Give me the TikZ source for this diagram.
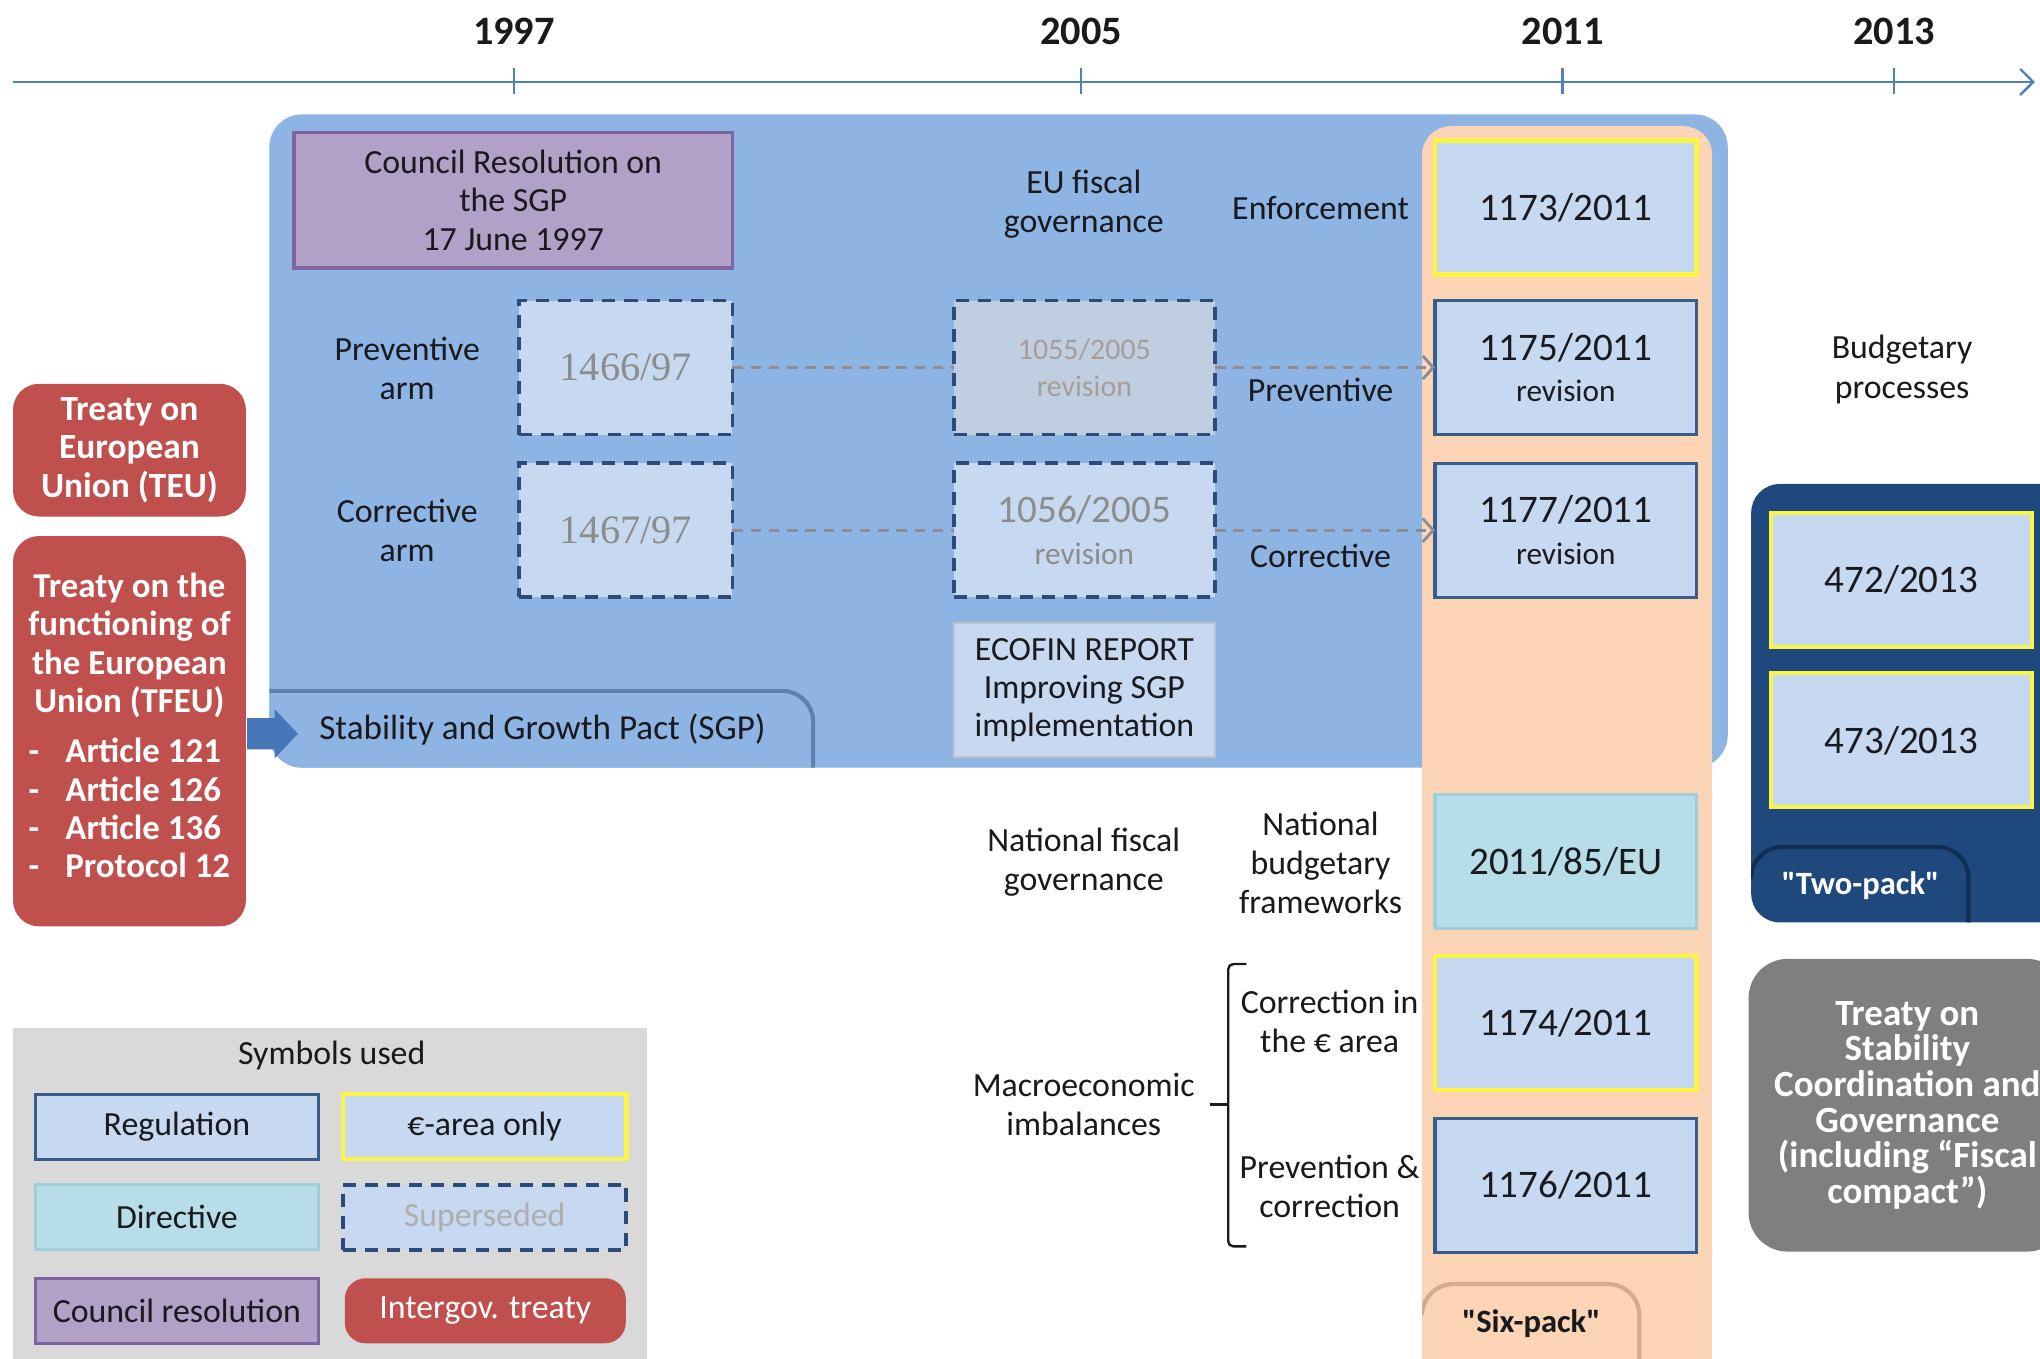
\documentclass[tikz,border=0pt]{standalone}
\usepackage{fontspec}
\setmainfont{Carlito}
\newfontfamily\serifnum{Liberation Serif}
\usetikzlibrary{arrows.meta}
\definecolor{sgpblue}{RGB}{141,180,226}
\definecolor{tabedge}{RGB}{92,128,176}
\definecolor{regfill}{RGB}{198,217,241}
\definecolor{regborder}{RGB}{56,93,138}
\definecolor{euroyellow}{RGB}{250,245,70}
\definecolor{peach}{RGB}{251,213,181}
\definecolor{peachedge}{RGB}{214,170,140}
\definecolor{dirfill}{RGB}{183,222,232}
\definecolor{dirborder}{RGB}{160,205,218}
\definecolor{purplefill}{RGB}{178,161,199}
\definecolor{purpleborder}{RGB}{128,100,162}
\definecolor{treatyred}{RGB}{192,80,77}
\definecolor{navy}{RGB}{31,73,125}
\definecolor{navyedge}{RGB}{18,45,82}
\definecolor{treatygray}{RGB}{127,127,127}
\definecolor{legbg}{RGB}{217,217,217}
\definecolor{timeline}{RGB}{79,129,189}
\definecolor{arrowblue}{RGB}{70,120,185}
\definecolor{supborder}{RGB}{45,75,120}
\definecolor{supgray}{RGB}{140,140,140}
\definecolor{supfilltwo}{RGB}{192,206,226}
\definecolor{suptexttwo}{RGB}{166,158,150}
\definecolor{linkgray}{RGB}{140,140,150}
\definecolor{ecoborder}{RGB}{190,195,205}
\definecolor{darktext}{RGB}{25,25,30}
\newcommand{\fsz}[2]{\fontsize{#1}{#2}\selectfont}
\begin{document}
\begin{tikzpicture}[x=0.5pt,y=-0.5pt,
  every node/.style={inner sep=0pt, outer sep=0pt, text=darktext},
  lbl/.style={align=center, font=\fsz{13}{15}},
  boxbase/.style={minimum width=100.5pt, minimum height=51.5pt, align=center, line width=1.2pt},
  regbox/.style={boxbase, draw=regborder, fill=regfill, font=\fsz{15}{16}},
  eurobox/.style={boxbase, draw=euroyellow, line width=1.6pt, fill=regfill, font=\fsz{15}{16}},
  supbox/.style={boxbase, draw=supborder, fill=regfill, line width=1.5pt, dash pattern=on 5pt off 3.5pt},
  dirbox/.style={boxbase, draw=dirborder, fill=dirfill, font=\fsz{15}{16}},
  redbox/.style={fill=treatyred, rounded corners=10pt, text=white, align=center, font=\bfseries\fsz{13.6}{14.75}},
  legbox/.style={minimum width=109pt, minimum height=25pt, font=\fsz{13}{15}, align=center, line width=1.2pt},
  link/.style={draw=linkgray, line width=1.1pt, dash pattern=on 4pt off 3pt},
]
\useasboundingbox (0,0) rectangle (1568,1044);
\fill[white] (0,0) rectangle (1568,1044);

% timeline
\coordinate (tl0) at (10,63);
\coordinate (tl1) at (1564,63);
\draw[timeline, line width=0.9pt, -{Straight Barb[length=5pt,width=10pt]}] (tl0) -- (tl1);
\foreach \yr/\xx in {1997/395,2005/831,2011/1201,2013/1456}{
  \draw[timeline, line width=0.9pt] (\xx,52) -- (\xx,72);
  \node[font=\bfseries\fsz{15.5}{17}] (y\yr) at (\xx,24) {\yr};
}

% EU fiscal governance container
\node[fill=sgpblue, rounded corners=12.5pt, minimum width=560.5pt, minimum height=251pt] (eu) at (767.5,339) {};
% SGP tab
\begin{scope}
  \clip[rounded corners=12.5pt] (207,88) rectangle (1328,590);
  \fill[sgpblue, rounded corners=12pt] (190,531) -- (625,531) -- (625,620) -- (190,620) -- cycle;
  \draw[tabedge, line width=1.6pt, rounded corners=12pt] (207,531) -- (625,531) -- (625,600);
\end{scope}
\node[font=\fsz{13.5}{15}] (sgp) at (417,561) {Stability and Growth Pact (SGP)};

% six-pack column
\begin{scope}
  \clip (1093,90) rectangle (1320,1044);
  \fill[peach, rounded corners=11pt] (1093,97) rectangle (1316,1120);
  \draw[peachedge, line width=1.6pt, rounded corners=12pt] (1093,1010) -- (1093,987) -- (1260,987) -- (1260,1060);
\end{scope}
\node[font=\bfseries\fsz{12.5}{15}] (sixpack) at (1177,1017) {\textquotedbl Six-pack\textquotedbl};

% council resolution
\node[draw=purpleborder, fill=purplefill, line width=1.2pt, minimum width=168.5pt, minimum height=52pt, align=center, font=\fsz{13}{14.75}] (council) at (394.5,154) {Council Resolution on\\the SGP\\17 June 1997};

% labels
\node[lbl] (eufisc) at (833,157) {EU fiscal\\governance};
\node[lbl] (enf) at (1015,160) {Enforcement};
\node[lbl] (prevarm) at (313,283) {Preventive\\arm};
\node[lbl] (corrarm) at (313,408) {Corrective\\arm};
\node[lbl] (prev) at (1015,300) {Preventive};
\node[lbl] (corr) at (1015,427) {Corrective};
\node[lbl] (natfisc) at (833,663) {National fiscal\\governance};
\node[lbl] (natbud) at (1015,663) {National\\budgetary\\frameworks};
\node[lbl] (macro) at (833,849) {Macroeconomic\\imbalances};
\node[lbl] (corrdraw) at (1022,785) {Correction in\\the € area};
\node[lbl] (prevcorr) at (1022,912) {Prevention \&\\correction};
\node[lbl] (budproc) at (1462,284) {Budgetary\\processes};

% superseded
\node[supbox, minimum width=82pt, font=\serifnum\fsz{15.5}{17}, text=supgray] (r1466) at (481,282.5) {1466/97};
\node[supbox, minimum width=82pt, font=\serifnum\fsz{15.5}{17}, text=supgray] (r1467) at (481,407.5) {1467/97};
\node[supbox, fill=supfilltwo, text=suptexttwo, font=\fsz{11.5}{14}] (r1055) at (833.5,282.5) {1055/2005\\revision};
\node[supbox, text=supgray, font=\fsz{15}{16}] (r1056) at (833.5,407.5) {1056/2005\\{\fsz{12}{16}revision}};
\node[boxbase, draw=ecoborder, fill=regfill, line width=0.8pt, font=\fsz{13}{14.75}] (ecofin) at (833.5,530.5) {ECOFIN REPORT\\Improving SGP\\implementation};

% six-pack regulations
\node[eurobox] (r1173) at (1203.5,159.5) {1173/2011};
\node[regbox] (r1175) at (1203.5,282.5) {1175/2011\\{\fsz{12}{16}revision}};
\node[regbox] (r1177) at (1203.5,407.5) {1177/2011\\{\fsz{12}{16}revision}};
\node[dirbox] (d2011) at (1203.5,662) {2011/85/EU};
\node[eurobox] (r1174) at (1203.5,786.5) {1174/2011};
\node[regbox] (r1176) at (1203.5,911) {1176/2011};

% links
\draw[link] (r1466.east) -- (r1055.west);
\draw[link] (r1467.east) -- (r1056.west);
\draw[link, -{Straight Barb[length=4pt,width=9pt]}] (r1055.east) -- (r1175.west);
\draw[link, -{Straight Barb[length=4pt,width=9pt]}] (r1056.east) -- (r1177.west);

% brace
\draw[darktext, line width=0.9pt, rounded corners=2pt] (958,741) -- (944,741) -- (944,958) -- (958,958);
\draw[darktext, line width=0.9pt] (944,849) -- (930,849);

% treaties left
\node[redbox, minimum width=89.5pt, minimum height=51pt] (teu) at (99.5,346) {Treaty on\\European\\Union (TEU)};
\node[redbox, minimum width=89.5pt, minimum height=150pt, font=\bfseries\fsz{13.4}{14.75}] (tfeu) at (99.5,562) {Treaty on the\\functioning of\\the European\\Union (TFEU)\\[6pt]
\begin{tabular}{@{}l@{\hspace{10pt}}l@{}}-&Article 121\\-&Article 126\\-&Article 136\\-&Protocol 12\end{tabular}};
\fill[arrowblue] (190,552) -- (211,552) -- (211,545) -- (229,564) -- (211,583) -- (211,576) -- (190,576) -- cycle;

% two-pack
\node[fill=navy, rounded corners=11pt, minimum width=122pt, minimum height=168.5pt] (twopack) at (1468,540.5) {};
\node[eurobox] (r472) at (1461.5,445.5) {472/2013};
\node[eurobox] (r473) at (1461.5,569) {473/2013};
\begin{scope}
  \clip[rounded corners=11pt] (1346,372) rectangle (1590,709);
  \draw[navyedge, line width=1.6pt, rounded corners=12pt] (1346,672) -- (1346,651) -- (1513,651) -- (1513,715);
\end{scope}
\node[font=\bfseries\fsz{12.5}{15}, text=white] (twolbl) at (1430,681) {\textquotedbl Two-pack\textquotedbl};

% TSCG
\node[fill=treatygray, rounded corners=15pt, minimum width=122pt, minimum height=112.5pt, text=white, align=center, font=\bfseries\fsz{14.2}{13.7}] (tscg) at (1466,849.5) {Treaty on\\Stability\\Coordination and\\Governance\\(including “Fiscal\\compact”)};

% legend
\node[fill=legbg, minimum width=243.5pt, minimum height=135pt, anchor=north west] (legend) at (10,790) {};
\node[font=\fsz{13}{15}] (legtitle) at (255,811) {Symbols used};
\node[legbox, draw=regborder, fill=regfill] (lreg) at (136,866) {Regulation};
\node[legbox, draw=euroyellow, line width=1.6pt, fill=regfill] (leuro) at (372.5,866) {€-area only};
\node[legbox, draw=dirborder, fill=dirfill] (ldir) at (136,935.5) {Directive};
\node[legbox, draw=supborder, line width=1.5pt, dash pattern=on 5pt off 3.5pt, fill=regfill, text=supgray!70] (lsup) at (372.5,935.5) {Superseded};
\node[legbox, draw=purpleborder, fill=purplefill] (lcouncil) at (136,1007.5) {Council resolution};
\node[legbox, fill=treatyred, rounded corners=8pt, text=white, minimum width=108pt] (ltreaty) at (373,1007.5) {Intergov. treaty};
\end{tikzpicture}
\end{document}
